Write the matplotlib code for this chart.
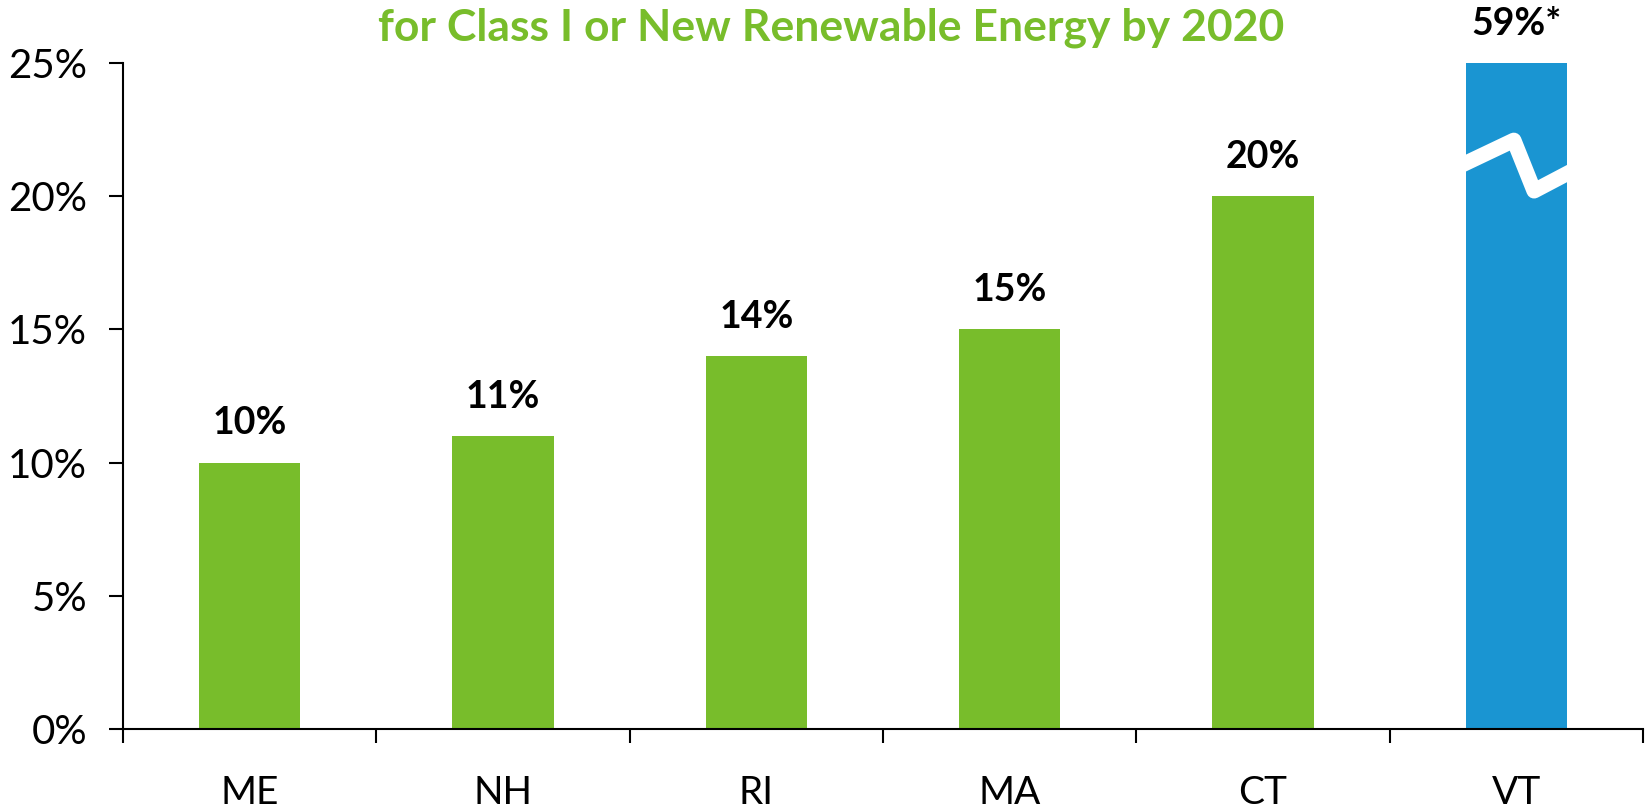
import matplotlib
matplotlib.use("Agg")
import matplotlib.pyplot as plt
import numpy as np

states = ["ME", "NH", "RI", "MA", "CT", "VT"]
values = [10, 11, 14, 15, 20, 59]
labels = ["10%", "11%", "14%", "15%", "20%", "59%*"]
yticks = [0, 5, 10, 15, 20, 25]
ytick_labels = ["0%", "5%", "10%", "15%", "20%", "25%"]
title = "for Class I or New Renewable Energy by 2020"

GREEN = "#78BD2B"
BLUE = "#1A95D2"
colors = [GREEN] * 5 + [BLUE]

plt.rcParams['font.family'] = ['Lato', 'DejaVu Sans']

fig = plt.figure(figsize=(16.45, 8.08), dpi=100)
ax = fig.add_axes([0.0748, 0.0978, 0.924, 0.8242])

x = np.arange(len(states))
width = 0.4
bars = ax.bar(x, values, width=width, color=colors, zorder=2)
ax.set_xlim(-0.5, len(states) - 0.5)
ax.set_ylim(0, 25)

# value labels (clipped at axis top for broken bar)
ymax = 25
for xi, v, lab in zip(x, values, labels):
    ax.annotate(lab, xy=(xi, min(v, ymax)), xytext=(0, 16), textcoords="offset points",
                ha="center", va="bottom", fontsize=27, fontweight="bold",
                color="black", annotation_clip=False)

# break mark on the VT bar
vi = len(states) - 1
bx = [vi - width / 2 - 0.02, vi - 0.01, vi + 0.07, vi + width / 2 + 0.02]
by = [21.15, 22.1, 20.2, 20.95]
ax.plot(bx, by, color="white", lw=11, solid_joinstyle="round", solid_capstyle="butt",
        zorder=3, clip_on=True)

ax.set_yticks(yticks)
ax.set_yticklabels(ytick_labels)
ax.set_xticks(x)
ax.set_xticklabels(states)
ax.set_xticks(np.arange(-0.5, len(states)), minor=True)
ax.tick_params(axis="x", which="major", length=0, pad=33, labelsize=28)
ax.tick_params(axis="x", which="minor", length=10, width=1.5, direction="out")
ax.tick_params(axis="y", length=10, width=1.5, pad=16, labelsize=29)

for s in ["top", "right"]:
    ax.spines[s].set_visible(False)
for s in ["left", "bottom"]:
    ax.spines[s].set_linewidth(1.5)

fig.text(0.505, 0.950, title, ha="center", va="baseline", fontsize=32,
         fontweight="bold", color=GREEN)

fig.savefig("out.png", dpi=100)
